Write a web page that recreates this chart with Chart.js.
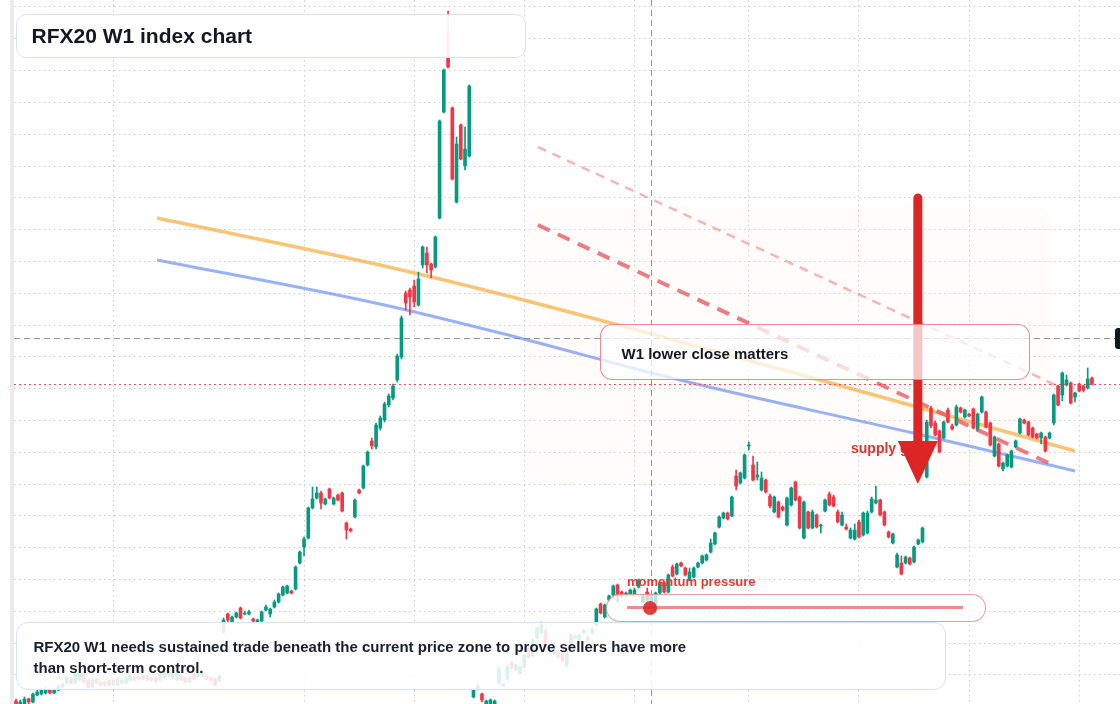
<!DOCTYPE html>
<html lang="en">
<head>
<meta charset="utf-8">
<title>RFX20 W1 index chart</title>
<script src="https://cdn.jsdelivr.net/npm/chart.js@4.4.1/dist/chart.umd.min.js"></script>
<style>
  html, body { margin:0; padding:0; background:#fff; overflow:hidden; }
  #wrap { position:relative; width:1120px; height:704px; overflow:hidden; font-family:"Liberation Sans", Arial, Helvetica, sans-serif; }
  #c, #ov { position:absolute; left:0; top:0; }
  #c { z-index:0; }
  #ov { z-index:2; pointer-events:none; }
  .lbl { position:absolute; z-index:1; font-weight:700; white-space:nowrap; }
  .box { position:absolute; z-index:3; box-sizing:border-box; font-weight:700; white-space:nowrap; }
  #title { left:16px; top:14px; width:510px; height:44px; border:1.5px solid #d6e2f8; border-radius:10px; background:rgba(255,255,255,0.92); color:#131722; font-size:21px; line-height:41px; padding-left:14.5px; }
  #foot { left:16px; top:622px; width:930px; height:68px; border:1.5px solid #d6e2f8; border-radius:12px; background:rgba(255,255,255,0.86); color:#1a1f2b; font-size:15px; line-height:21px; padding:13px 0 0 16.5px; }
  #note { left:600px; top:324px; width:430px; height:56px; border:1.5px solid rgba(234,112,122,0.8); border-radius:12px; background:rgba(255,255,255,0.74); color:#131722; font-size:15px; line-height:21px; padding:18px 0 0 20.5px; }
  #pill { left:606px; top:594px; width:380px; height:28px; border:1.5px solid rgba(236,110,118,0.7); border-radius:14px; background:rgba(255,255,255,0.72); }
  #pillLine { position:absolute; z-index:4; left:627px; top:606px; width:336px; height:3px; background:rgba(236,100,100,0.75); }
  #pillDot { position:absolute; z-index:5; left:643px; top:600.5px; width:14px; height:14px; border-radius:50%; background:rgba(220,38,38,0.88); }
  #supply { left:851px; top:439px; font-size:14px; line-height:18px; color:#e03131; }
  #mom { left:627px; top:574px; font-size:13px; line-height:16px; color:#e03b3b; }
  #tag { position:absolute; z-index:3; left:1115px; top:328px; height:21px; padding:0 5px; background:#131722; color:#fff; font-size:12px; line-height:21px; border-radius:3px; white-space:nowrap; }
</style>
</head>
<body>
<div id="wrap">
  <canvas id="c" width="1120" height="704"></canvas>
  <div class="lbl" id="supply">supply gate</div>
  <div class="lbl" id="mom">momentum pressure</div>
  <canvas id="ov" width="1120" height="704"></canvas>
  <div class="box" id="title">RFX20 W1 index chart</div>
  <div class="box" id="note">W1 lower close matters</div>
  <div class="box" id="pill"></div>
  <div id="pillLine"></div>
  <div id="pillDot"></div>
  <div class="box" id="foot">RFX20 W1 needs sustained trade beneath the current price zone to prove sellers have more<br>than short-term control.</div>
  <div id="tag">1662.00</div>
</div>
<script>
// ---- weekly OHLC values (index points) ----
const opens = [
1299,1296,1296,1301,1298,1305,1306,1307,1310,1307,
1310,1313,1317,1322,1317,1320,1327,1320,1313,1321,
1318,1315,1319,1315,1321,1317,1317,1320,1323,1323,
1321,1324,1320,1322,1320,1323,1327,1322,1320,1324,
1322,1318,1326,1324,1324,1324,1322,1321,1319,1368,
1386,1378,1383,1392,1386,1386,1381,1378,1379,1390,
1386,1393,1398,1405,1407,1409,1411,1437,1453,1462,
1492,1502,1507,1496,1511,1496,1505,1507,1477,1471,
1483,1510,1512,1535,1559,1553,1572,1580,1595,1602,
1620,1643,1707,1710,1714,1695,1735,1747,1736,1733,
1782,1888,1968,1892,1798,1875,1834,1844,1303,1311,
1306,1296,1296,1295,1317,1316,1321,1337,1330,1327,
1333,1352,1344,1362,1367,1369,1351,1347,1348,1347,
1334,1353,1362,1360,1367,1362,1367,1375,1396,1383,
1400,1405,1415,1408,1405,1406,1406,1413,1398,1408,
1395,1388,1407,1417,1408,1433,1426,1437,1432,1420,
1423,1433,1437,1440,1448,1456,1473,1482,1487,1484,
1524,1517,1522,1554,1535,1523,1510,1520,1504,1488,
1498,1493,1475,1495,1518,1503,1462,1488,1472,1485,
1474,1489,1506,1503,1488,1475,1473,1462,1461,1478,
1465,1467,1488,1497,1500,1488,1468,1457,1433,1437,
1437,1442,1438,1456,1458,1523,1592,1577,1569,1562,
1590,1574,1575,1592,1583,1586,1591,1570,1588,1588,
1577,1544,1556,1531,1534,1533,1553,1567,1580,1578,
1572,1566,1562,1563,1562,1577,1614,1605,1615,1617,
1603,1616,1614,1612,1622];
const highs = [
1301,1300,1303,1302,1307,1310,1312,1313,1311,1312,
1316,1317,1324,1323,1328,1329,1328,1321,1322,1322,
1319,1319,1320,1321,1322,1321,1323,1326,1324,1324,
1325,1325,1323,1323,1328,1328,1328,1328,1328,1325,
1323,1323,1327,1328,1328,1325,1323,1322,1325,1382,
1387,1384,1388,1393,1389,1390,1382,1381,1389,1395,
1392,1400,1407,1414,1415,1410,1434,1449,1463,1493,
1513,1513,1509,1502,1512,1503,1506,1508,1478,1472,
1501,1511,1535,1549,1562,1577,1584,1598,1606,1616,
1646,1684,1709,1712,1720,1728,1754,1753,1737,1764,
1880,1931,1989,1893,1863,1876,1873,1915,1312,1316,
1307,1300,1301,1300,1333,1316,1335,1339,1336,1334,
1346,1354,1361,1373,1378,1370,1352,1357,1350,1348,
1348,1366,1365,1366,1371,1364,1373,1392,1397,1396,
1405,1415,1416,1409,1408,1411,1412,1421,1405,1412,
1406,1408,1418,1419,1426,1435,1437,1438,1433,1432,
1433,1438,1445,1446,1461,1468,1484,1488,1488,1504,
1530,1528,1546,1558,1544,1538,1528,1521,1506,1504,
1499,1494,1503,1513,1519,1504,1499,1489,1490,1486,
1476,1501,1508,1505,1490,1488,1476,1472,1476,1480,
1488,1489,1503,1514,1501,1489,1469,1467,1447,1444,
1444,1443,1454,1461,1473,1580,1594,1579,1570,1579,
1592,1576,1595,1593,1591,1587,1592,1587,1604,1589,
1578,1564,1557,1538,1546,1550,1560,1582,1581,1579,
1573,1567,1568,1564,1568,1606,1615,1628,1625,1618,
1608,1617,1615,1632,1623];
const lows = [
1294,1294,1295,1296,1297,1304,1305,1306,1306,1306,
1309,1312,1316,1316,1316,1319,1317,1312,1312,1316,
1314,1314,1314,1314,1314,1316,1316,1319,1319,1320,
1320,1319,1319,1317,1319,1322,1323,1321,1319,1319,
1317,1317,1320,1323,1323,1320,1319,1314,1318,1367,
1378,1377,1382,1381,1385,1385,1377,1377,1378,1389,
1383,1392,1397,1404,1406,1406,1410,1436,1444,1461,
1491,1501,1491,1495,1501,1495,1499,1488,1461,1468,
1482,1506,1511,1534,1551,1551,1570,1578,1593,1600,
1618,1641,1690,1685,1693,1694,1732,1727,1722,1732,
1781,1887,1932,1820,1797,1840,1830,1843,1302,1310,
1298,1294,1294,1293,1315,1314,1320,1331,1329,1326,
1332,1342,1343,1361,1366,1353,1348,1346,1342,1338,
1333,1352,1361,1359,1366,1359,1366,1374,1386,1382,
1398,1404,1398,1403,1404,1405,1405,1412,1397,1399,
1394,1387,1406,1407,1407,1423,1425,1433,1424,1419,
1422,1432,1436,1439,1447,1455,1472,1481,1480,1483,
1510,1516,1521,1550,1519,1520,1509,1507,1492,1487,
1482,1489,1474,1494,1499,1471,1461,1471,1471,1472,
1467,1488,1494,1493,1477,1474,1470,1461,1460,1462,
1464,1466,1487,1496,1484,1474,1462,1456,1432,1425,
1436,1435,1437,1455,1457,1522,1572,1564,1547,1561,
1577,1570,1574,1587,1582,1583,1571,1569,1587,1572,
1554,1543,1533,1529,1533,1532,1552,1566,1576,1564,
1562,1561,1556,1548,1561,1575,1594,1599,1614,1596,
1598,1608,1608,1611,1615];
const closes = [
1296,1298,1301,1298,1306,1308,1310,1311,1307,1311,
1314,1316,1323,1317,1327,1327,1318,1313,1321,1317,
1315,1318,1315,1320,1315,1320,1322,1325,1320,1321,
1324,1320,1322,1318,1327,1327,1324,1327,1327,1320,
1318,1322,1321,1327,1327,1321,1320,1315,1324,1380,
1380,1383,1387,1382,1387,1388,1379,1380,1388,1393,
1391,1398,1406,1413,1414,1407,1433,1448,1461,1492,
1501,1507,1497,1501,1502,1502,1500,1489,1470,1469,
1500,1507,1534,1548,1554,1575,1582,1596,1604,1614,
1644,1682,1697,1703,1698,1721,1753,1735,1730,1763,
1879,1930,1933,1821,1856,1841,1851,1914,1310,1314,
1300,1299,1300,1299,1331,1314,1333,1332,1335,1333,
1345,1343,1360,1372,1375,1354,1349,1355,1343,1339,
1347,1365,1364,1365,1370,1360,1371,1391,1387,1395,
1404,1414,1405,1405,1407,1410,1410,1420,1404,1400,
1405,1407,1417,1408,1425,1424,1436,1434,1425,1428,
1432,1437,1444,1445,1457,1467,1483,1487,1481,1503,
1514,1527,1545,1555,1520,1525,1522,1508,1494,1503,
1483,1490,1502,1512,1500,1472,1498,1472,1488,1473,
1475,1500,1495,1494,1478,1485,1471,1470,1470,1463,
1487,1487,1501,1500,1485,1475,1463,1466,1445,1426,
1443,1436,1453,1460,1472,1578,1574,1565,1548,1578,
1578,1571,1593,1588,1590,1584,1572,1586,1603,1573,
1555,1563,1534,1537,1545,1549,1559,1581,1577,1565,
1563,1562,1567,1549,1567,1605,1595,1627,1620,1597,
1607,1609,1610,1621,1616];

// week positions of the time grid lines, and price grid levels
const timeGridWeeks = [22.9, 68, 94, 120, 146, 173, 199, 225, 251];
const priceGridLevels = [];
for (let k = 0; k < 22; k++) priceGridLevels.push(+(1993 - 31.8 * k).toFixed(1));

// drawn analysis (week index, price)
const orangeTrend = [{x:33.3,y:1782},{x:85.9,y:1735},{x:114.3,y:1706},{x:189.8,y:1620},{x:250.0,y:1549}];
const blueTrend   = [{x:33.3,y:1740},{x:85.9,y:1696},{x:114.3,y:1667},{x:156.7,y:1620},{x:211.8,y:1567},{x:250.0,y:1529}];
const upperChannel = [{x:123.2,y:1853},{x:246.5,y:1613}];
const lowerChannel = [{x:123.2,y:1775},{x:244.8,y:1535}];
const zone = {w0:120.2, w1:244.6, p0:1793, p1:1517};
const arrow = {w:212.9, pTop:1802, pHead:1559, pTip:1516};
const crosshair = {w:149.9, p:1662};

const weeks = opens.map((_, i) => i);
const UP = '#089981', DN = '#f23645';
const candleColors = weeks.map(i => closes[i] >= opens[i] ? UP : DN);

const overlayPlugin = {
  id: 'overlayPlugin',
  beforeDraw(chart) {
    const c = chart.ctx;
    c.save();
    c.fillStyle = '#ffffff';
    c.fillRect(0, 0, chart.width, chart.height);
    c.fillStyle = '#ebebeb';
    c.fillRect(10, 0, 4, chart.height);
    c.restore();
  },
  beforeDatasetsDraw(chart) {
    const c = chart.ctx, xs = chart.scales.x, ys = chart.scales.y;
    const x0 = xs.getPixelForValue(zone.w0), x1 = xs.getPixelForValue(zone.w1);
    const y0 = ys.getPixelForValue(zone.p0), y1 = ys.getPixelForValue(zone.p1);
    c.save();
    c.fillStyle = 'rgba(253,228,210,0.11)';
    c.beginPath();
    if (c.roundRect) c.roundRect(x0, y0, x1 - x0, y1 - y0, 18); else c.rect(x0, y0, x1 - x0, y1 - y0);
    c.fill();
    c.restore();
  },
  afterDatasetsDraw(chart) {
    const c = chart.ctx, xs = chart.scales.x, ys = chart.scales.y, a = chart.chartArea;
    c.save();
    // last price line
    const py = Math.round(ys.getPixelForValue(closes[closes.length - 1])) + 0.5;
    c.strokeStyle = 'rgba(242,54,69,0.9)';
    c.lineWidth = 1;
    c.setLineDash([2, 3]);
    c.beginPath(); c.moveTo(a.left, py); c.lineTo(a.right, py); c.stroke();
    // crosshair
    c.strokeStyle = 'rgba(120,123,134,0.8)';
    c.setLineDash([6, 4]);
    const cx = Math.round(xs.getPixelForValue(crosshair.w)) + 0.5;
    const cy = Math.round(ys.getPixelForValue(crosshair.p)) + 0.5;
    c.beginPath(); c.moveTo(cx, a.top); c.lineTo(cx, a.bottom); c.stroke();
    c.beginPath(); c.moveTo(a.left, cy); c.lineTo(a.right, cy); c.stroke();
    c.restore();
  },
  afterDraw(chart) {
    const xs = chart.scales.x, ys = chart.scales.y;
    const ov = document.getElementById('ov').getContext('2d');
    ov.clearRect(0, 0, 1120, 704);
    const ax = xs.getPixelForValue(arrow.w);
    const yTop = ys.getPixelForValue(arrow.pTop), yHead = ys.getPixelForValue(arrow.pHead), yTip = ys.getPixelForValue(arrow.pTip);
    ov.strokeStyle = '#dc2626';
    ov.fillStyle = '#dc2626';
    ov.lineWidth = 9;
    ov.lineCap = 'round';
    ov.beginPath(); ov.moveTo(ax, yTop); ov.lineTo(ax, yHead + 2); ov.stroke();
    ov.beginPath(); ov.moveTo(ax - 20, yHead); ov.lineTo(ax + 20, yHead); ov.lineTo(ax, yTip); ov.closePath(); ov.fill();
  }
};

const spacing = 4.236;
const xMin = -2 / spacing;
const xMax = xMin + 1106 / spacing;

new Chart(document.getElementById('c'), {
  type: 'bar',
  data: {
    datasets: [
      { type:'line', data: orangeTrend, borderColor:'rgba(246,178,72,0.75)', borderWidth:3.5, pointRadius:0, cubicInterpolationMode:'monotone', order:6 },
      { type:'line', data: blueTrend, borderColor:'rgba(104,140,240,0.68)', borderWidth:3, pointRadius:0, cubicInterpolationMode:'monotone', order:5 },
      { type:'bar', data: weeks.map(i => ({x:i, y:[lows[i], highs[i]]})), backgroundColor: candleColors, barThickness:1, grouped:false, borderWidth:0, order:3 },
      { type:'bar', data: weeks.map(i => ({x:i, y:[Math.min(opens[i], closes[i]), Math.max(opens[i], closes[i])]})), backgroundColor: candleColors, barThickness:3, minBarLength:1, grouped:false, borderWidth:0, order:2 },
      { type:'line', data: upperChannel, borderColor:'rgba(236,110,120,0.5)', borderWidth:2.5, borderDash:[9,7], pointRadius:0, order:1 },
      { type:'line', data: lowerChannel, borderColor:'rgba(228,82,92,0.75)', borderWidth:4, borderDash:[13,9], pointRadius:0, order:0 }
    ]
  },
  options: {
    responsive: false,
    animation: false,
    devicePixelRatio: 1,
    layout: { padding: { left:14, right:0, top:0, bottom:0 } },
    plugins: { legend: { display:false }, tooltip: { enabled:false } },
    scales: {
      x: {
        type:'linear', min:xMin, max:xMax, offset:false,
        grid: { offset:false, drawTicks:false, color:'#c9cdd4', lineWidth:1 },
        border: { display:false, dash:[1.5,3.5] },
        ticks: { display:false },
        afterBuildTicks: s => { s.ticks = timeGridWeeks.map(v => ({ value:v })); },
        afterFit: s => { s.height = 0; }
      },
      y: {
        type:'linear', min:1296, max:2000,
        grid: { drawTicks:false, color:'#c9cdd4', lineWidth:1 },
        border: { display:false, dash:[1.5,3.5] },
        ticks: { display:false },
        afterBuildTicks: s => { s.ticks = priceGridLevels.map(v => ({ value:v })); },
        afterFit: s => { s.width = 0; }
      }
    }
  },
  plugins: [overlayPlugin]
});
</script>
</body>
</html>
